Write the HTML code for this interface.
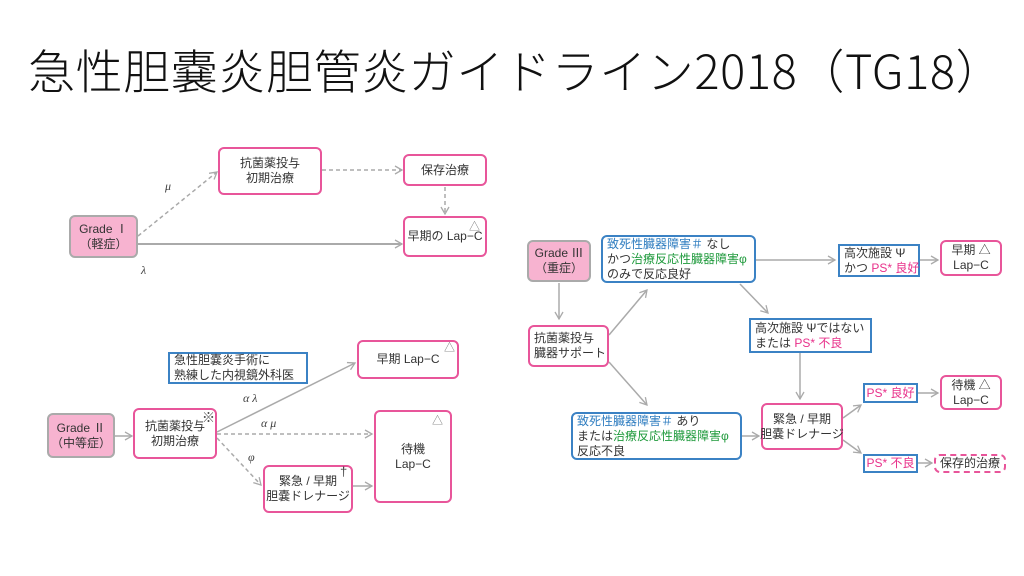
<!DOCTYPE html>
<html><head><meta charset="utf-8"><style>
body{margin:0;width:1024px;height:576px;background:#fff;position:relative;overflow:hidden;font-family:"Liberation Sans","Noto Sans CJK JP",sans-serif;color:#333}
.t{position:absolute;left:28px;top:38px;font-size:47px;line-height:62px;white-space:nowrap;font-family:"Noto Sans CJK JP",sans-serif;font-weight:300;color:#111;letter-spacing:0.6px}
.b{position:absolute;box-sizing:border-box;display:flex;align-items:center;justify-content:center;text-align:center;font-size:12px;line-height:15px;white-space:nowrap}
.p{border:2px solid #e8559a;border-radius:6px;background:#fff}
.g{border:2px solid #aaa;border-radius:6px;background:#f7b3d0}
.u{border:2px solid #3b82c4;border-radius:6px;background:#fff}
.s{border:2px solid #3b82c4;background:#fff}
.l{justify-content:flex-start;text-align:left;padding-left:4px}
.bl{color:#2f7dc0}.gr{color:#1f9a3c}.pk{color:#e8308a}
.lab{position:absolute;font-size:12px;font-style:italic;font-family:"Liberation Serif",serif;color:#444}
.tri{position:absolute;font-size:11px;color:#777}
svg{position:absolute;left:0;top:0}
</style></head><body>
<div class="t">急性胆嚢炎胆管炎ガイドライン2018（TG18）</div>
<svg width="1024" height="576">
<defs><marker id="a" markerWidth="10" markerHeight="10" refX="8" refY="5" orient="auto" markerUnits="userSpaceOnUse"><path d="M1,1 L8,5 L1,9" fill="none" stroke="#aaa" stroke-width="1.3"/></marker></defs>
<g stroke="#aaa" stroke-width="1.5" fill="none" marker-end="url(#a)">
<line x1="138" y1="236" x2="217" y2="172" stroke-dasharray="4,3"/>
<line x1="322" y1="170" x2="402" y2="170" stroke-dasharray="4,3"/>
<line x1="445" y1="187" x2="445" y2="214" stroke-dasharray="4,3"/>
<line x1="138" y1="244" x2="402" y2="244" stroke-width="2"/>
<line x1="115" y1="436" x2="132" y2="436"/>
<line x1="217" y1="432" x2="355" y2="363"/>
<line x1="217" y1="434" x2="372" y2="434" stroke-dasharray="4,3"/>
<line x1="217" y1="438" x2="261" y2="485" stroke-dasharray="4,3"/>
<line x1="353" y1="486" x2="372" y2="486"/>
<line x1="559" y1="283" x2="559" y2="319"/>
<line x1="609" y1="335" x2="647" y2="290"/>
<line x1="609" y1="362" x2="647" y2="405"/>
<line x1="756" y1="260" x2="835" y2="260"/>
<line x1="920" y1="260" x2="938" y2="260"/>
<line x1="740" y1="284" x2="768" y2="313"/>
<line x1="800" y1="353" x2="800" y2="399"/>
<line x1="742" y1="436" x2="759" y2="436"/>
<line x1="843" y1="418" x2="861" y2="405"/>
<line x1="843" y1="440" x2="861" y2="453"/>
<line x1="918" y1="393" x2="938" y2="393"/>
<line x1="918" y1="463" x2="932" y2="463"/>
</g></svg>

<div class="b g" style="left:69px;top:215px;width:69px;height:43px">Grade Ⅰ<br>（軽症）</div>
<div class="b p" style="left:218px;top:147px;width:104px;height:48px">抗菌薬投与<br>初期治療</div>
<div class="b p" style="left:403px;top:154px;width:84px;height:32px">保存治療</div>
<div class="b p" style="left:403px;top:216px;width:84px;height:41px">早期の Lap−C</div>
<div class="tri" style="left:469px;top:218px">△</div>
<div class="lab" style="left:165px;top:179px">μ</div>
<div class="lab" style="left:141px;top:263px">λ</div>

<div class="b g" style="left:47px;top:413px;width:68px;height:45px">Grade Ⅱ<br>（中等症）</div>
<div class="b p" style="left:133px;top:408px;width:84px;height:51px">抗菌薬投与<br>初期治療</div>
<div class="tri" style="left:202px;top:407px;font-size:13px;color:#444">※</div>
<div class="b s l" style="left:168px;top:352px;width:140px;height:32px">急性胆嚢炎手術に<br>熟練した内視鏡外科医</div>
<div class="b p" style="left:357px;top:340px;width:102px;height:39px">早期 Lap−C</div>
<div class="tri" style="left:444px;top:339px">△</div>
<div class="b p" style="left:374px;top:410px;width:78px;height:93px">待機<br>Lap−C</div>
<div class="tri" style="left:432px;top:412px">△</div>
<div class="b p" style="left:263px;top:465px;width:90px;height:48px">緊急 / 早期<br>胆嚢ドレナージ</div>
<div class="tri" style="left:340px;top:464px;font-size:13px;color:#444">†</div>
<div class="lab" style="left:243px;top:391px">α λ</div>
<div class="lab" style="left:261px;top:416px">α μ</div>
<div class="lab" style="left:248px;top:450px">φ</div>

<div class="b g" style="left:527px;top:240px;width:64px;height:42px">Grade Ⅲ<br>（重症）</div>
<div class="b u l" style="left:601px;top:235px;width:155px;height:48px">
<div><span class="bl">致死性臓器障害＃</span> なし<br>かつ<span class="gr">治療反応性臓器障害φ</span><br>のみで反応良好</div></div>
<div class="b s l" style="left:838px;top:244px;width:82px;height:33px"><div>高次施設 Ψ<br>かつ <span class="pk">PS* 良好</span></div></div>
<div class="b p" style="left:940px;top:240px;width:62px;height:36px">早期 △<br>Lap−C</div>
<div class="b p l" style="left:528px;top:325px;width:81px;height:42px">抗菌薬投与<br>臓器サポート</div>
<div class="b s l" style="left:749px;top:318px;width:123px;height:35px"><div>高次施設 Ψではない<br>または <span class="pk">PS* 不良</span></div></div>
<div class="b u l" style="left:571px;top:412px;width:171px;height:48px">
<div><span class="bl">致死性臓器障害＃</span> あり<br>または<span class="gr">治療反応性臓器障害φ</span><br>反応不良</div></div>
<div class="b p" style="left:761px;top:403px;width:82px;height:47px">緊急 / 早期<br>胆嚢ドレナージ</div>
<div class="b s pk" style="left:863px;top:383px;width:55px;height:20px">PS* 良好</div>
<div class="b p" style="left:940px;top:375px;width:62px;height:35px">待機 △<br>Lap−C</div>
<div class="b s pk" style="left:863px;top:454px;width:55px;height:19px">PS* 不良</div>
<div class="b p" style="left:934px;top:454px;width:72px;height:19px;border-style:dashed">保存的治療</div>
</body></html>
